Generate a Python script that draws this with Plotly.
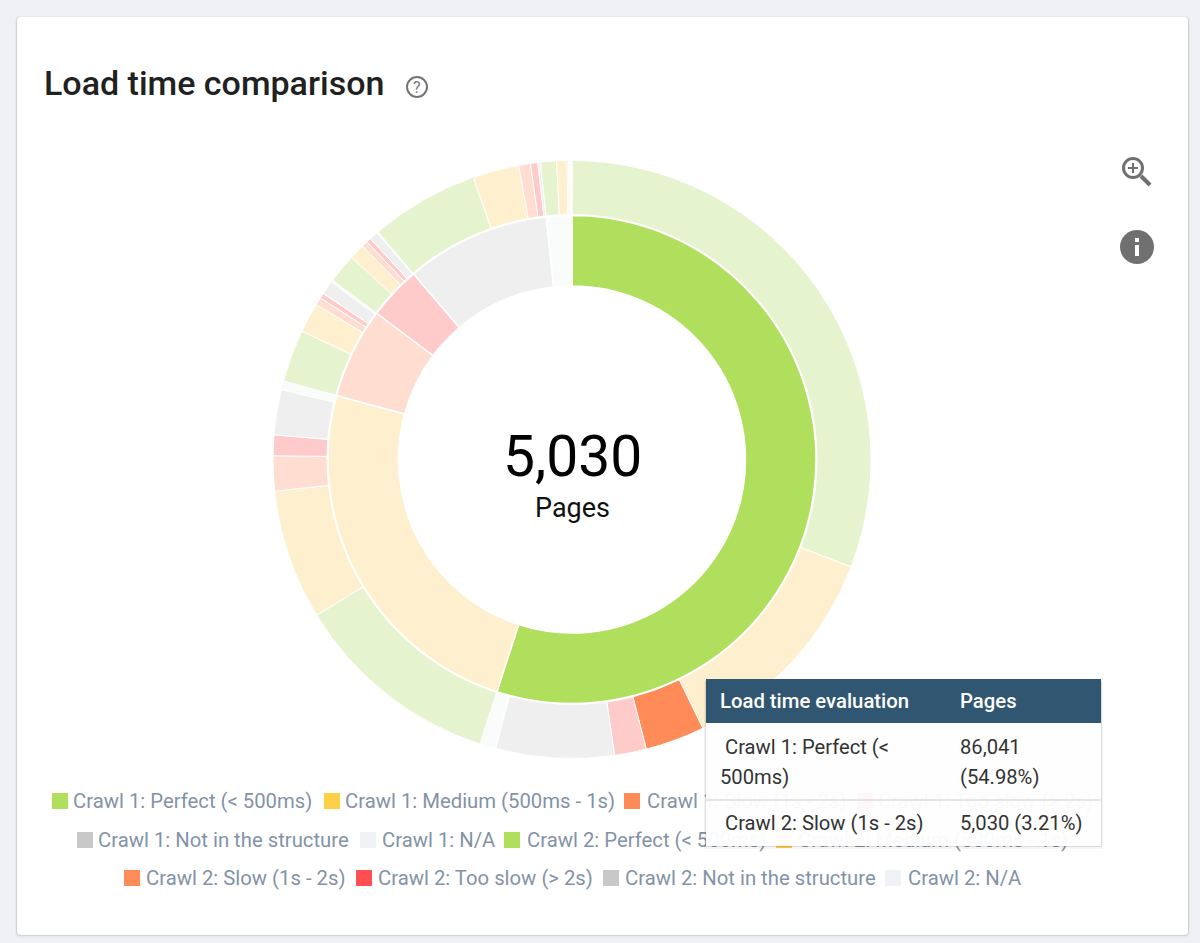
import plotly.graph_objects as go

# ---------- data ----------
categories = ["Perfect (< 500ms)", "Medium (500ms - 1s)", "Slow (1s - 2s)",
              "Too slow (> 2s)", "Not in the structure", "N/A"]
crawl1_pages = [86041, 37950, 9390, 5520, 14960, 2635]
# Crawl 2 pages (same category order) for each Crawl 1 category
from_perfect = [48276, 18690, 5030, 2695, 10000, 1350]
from_medium = [17690, 11000, 2955, 1740, 3825, 740]
from_slow = [4435, 2520, 650, 435, 1175, 175]
from_too_slow = [2480, 1305, 520, 390, 740, 85]
from_not_in = [9215, 3910, 1000, 610, 225, 0]
from_na = [1350, 870, 130, 85, 85, 115]
title_text = "Load time comparison"
center_value = "5,030"
center_label = "Pages"
tooltip_columns = ["Load time evaluation", "Pages"]

# ---------- styles ----------
strong = ["#b0df5d", "#fdd048", "#ff8b58", "#ff4f52", "#c8c8c8", "#f0f2f6"]
faint = ["#e5f3cf", "#fef0cf", "#ffddd0", "#ffcaca", "#efefef", "#fafbfb"]
W, H = 1200, 943
CX, CY = 572, 459.5
R_OUT, R_OUT_IN, R_MID, R_IN = 299, 245, 244, 173.5
HIGHLIGHT_C1, HIGHLIGHT_C2 = (0, (0, 2))


def domain(r):
    return dict(x=[(CX - r) / W, (CX + r) / W], y=[1 - (CY + r) / H, 1 - (CY - r) / H])


fig = go.Figure()

# inner ring (Crawl 1)
inner_colors = [strong[i] if i == HIGHLIGHT_C1 else faint[i] for i in range(6)]
fig.add_trace(go.Pie(
    labels=["Crawl 1: " + c for c in categories], values=crawl1_pages,
    sort=False, direction="clockwise", rotation=0, hole=R_IN / R_MID,
    domain=domain(R_MID), textinfo="none", hoverinfo="skip", showlegend=False,
    marker=dict(colors=inner_colors, line=dict(color="#ffffff", width=1.5)),
))

# outer ring (Crawl 2)
groups = [from_perfect, from_medium, from_slow, from_too_slow, from_not_in, from_na]
outer_values, outer_labels, outer_colors = [], [], []
for g, vals in enumerate(groups):
    for c, v in enumerate(vals):
        outer_values.append(v)
        outer_labels.append(f"Crawl 1: {categories[g]} / Crawl 2: {categories[c]}")
        outer_colors.append(strong[c] if (g, c) == HIGHLIGHT_C2 else faint[c])
fig.add_trace(go.Pie(
    labels=outer_labels, values=outer_values,
    sort=False, direction="clockwise", rotation=0, hole=R_OUT_IN / R_OUT,
    domain=domain(R_OUT), textinfo="none", hoverinfo="skip", showlegend=False,
    marker=dict(colors=outer_colors, line=dict(color="#ffffff", width=1)),
))

# legend (drawn below the tooltip, which lets it show through faintly)
legend_rows = [
    (801, [(60, 73, "Crawl 1", 0), (332, 345, "Crawl 1", 1), (632, 647, "Crawl 1", 2), (865, 878, "Crawl 1", 3)]),
    (840, [(85, 98, "Crawl 1", 4), (368, 382, "Crawl 1", 5), (512, 527, "Crawl 2", 0), (784, 798, "Crawl 2", 1)]),
    (878, [(132, 146, "Crawl 2", 2), (364, 378, "Crawl 2", 3), (611, 625, "Crawl 2", 4), (893, 908, "Crawl 2", 5)]),
]
for y, items in legend_rows:
    for sx, tx, crawl, c in items:
        fig.add_trace(go.Scatter(
            x=[sx], y=[y], mode="markers", showlegend=False, hoverinfo="skip",
            marker=dict(symbol="square", size=16, color=strong[c], line=dict(width=0)),
        ))
        fig.add_trace(go.Scatter(
            x=[tx], y=[y + 1.5], mode="text", showlegend=False, hoverinfo="skip",
            text=[f"{crawl}: {categories[c]}"], textposition="middle right",
            textfont=dict(family="Roboto", size=20.3, color="#8393a7"),
        ))

shapes = []


def rrect(x0, y0, x1, y1, r, fill, layer="below"):
    p = (f"M{x0+r},{y0} L{x1-r},{y0} Q{x1},{y0} {x1},{y0+r} L{x1},{y1-r} Q{x1},{y1} {x1-r},{y1} "
         f"L{x0+r},{y1} Q{x0},{y1} {x0},{y1-r} L{x0},{y0+r} Q{x0},{y0} {x0+r},{y0} Z")
    shapes.append(dict(type="path", path=p, xref="x", yref="y", fillcolor=fill,
                       line=dict(width=0), layer=layer))


def rect(x0, y0, x1, y1, fill, layer="above"):
    shapes.append(dict(type="rect", x0=x0, y0=y0, x1=x1, y1=y1, xref="x", yref="y",
                       fillcolor=fill, line=dict(width=0), layer=layer))


def circle(cx, cy, r, fill=None, stroke=None, w=0):
    shapes.append(dict(type="circle", x0=cx - r, y0=cy - r, x1=cx + r, y1=cy + r, xref="x", yref="y",
                       fillcolor=fill or "rgba(0,0,0,0)", line=dict(color=stroke or "rgba(0,0,0,0)", width=w),
                       layer="above"))


def seg(x0, y0, x1, y1, color, w):
    shapes.append(dict(type="line", x0=x0, y0=y0, x1=x1, y1=y1, xref="x", yref="y",
                       line=dict(color=color, width=w), layer="above"))


# card
rrect(15, 16, 1190, 938, 5, "rgba(0,0,0,0.03)")
rrect(16, 17, 1189, 936, 5, "rgba(0,0,0,0.10)")
rrect(17, 17, 1188, 935, 4, "#ffffff")

# tooltip
rect(704, 680, 1103, 849, "rgba(0,0,0,0.04)")
rect(705, 681, 1102, 847, "rgba(0,0,0,0.10)")
rect(706, 679, 1101, 846, "rgba(255,255,255,0.955)")
rect(706, 679, 1101, 723, "#305672")
seg(706, 800, 1101, 800, "#dcdcdc", 1.5)

# icons
circle(417, 87, 10, stroke="#757575", w=2)
circle(1133, 168, 9.5, stroke="#707070", w=3)
seg(1141, 176, 1150, 185, "#707070", 4)
seg(1128, 168, 1138, 168, "#707070", 2)
seg(1133, 163, 1133, 173, "#707070", 2)
circle(1137, 247, 17, fill="#707070")
rect(1135, 238, 1139, 242, "#ffffff")
rect(1135, 245, 1139, 256, "#ffffff")

annotations = []


def text(x, y, s, size, color, anchor="left", weight=None):
    f = dict(family="Roboto", size=size, color=color)
    if weight:
        f["weight"] = weight
    annotations.append(dict(x=x, y=y, xref="x", yref="y", text=s, showarrow=False, xanchor=anchor,
                            yanchor="middle", borderpad=0, borderwidth=0, font=f))


text(44, 83, title_text, 34, "#212121", weight=500)
text(417, 87, "?", 16, "#757575", "center")
text(CX, 456, center_value, 57, "#000000", "center")
text(CX, 508, center_label, 27, "#111111", "center")

text(720, 701, tooltip_columns[0], 20.3, "#ffffff", weight=500)
text(960, 701, tooltip_columns[1], 20.3, "#ffffff", weight=500)
text(725, 747, "Crawl 1: Perfect (<", 20.2, "#333333")
text(720, 777, "500ms)", 20.2, "#333333")
text(960, 747, "86,041", 20.2, "#333333")
text(960, 777, "(54.98%)", 20.2, "#333333")
text(725, 823, "Crawl 2: Slow (1s - 2s)", 20.2, "#333333")
text(960, 823, "5,030 (3.21%)", 20.2, "#333333")

fig.update_layout(
    width=W, height=H, margin=dict(l=0, r=0, t=0, b=0, pad=0),
    paper_bgcolor="#eff1f6", plot_bgcolor="rgba(0,0,0,0)",
    xaxis=dict(range=[0, W], visible=False, fixedrange=True),
    yaxis=dict(range=[H, 0], visible=False, fixedrange=True),
    shapes=shapes, annotations=annotations, showlegend=False,
)
fig.write_html("out.html", config=dict(displayModeBar=False),
               post_script="document.body.style.margin='0';")
